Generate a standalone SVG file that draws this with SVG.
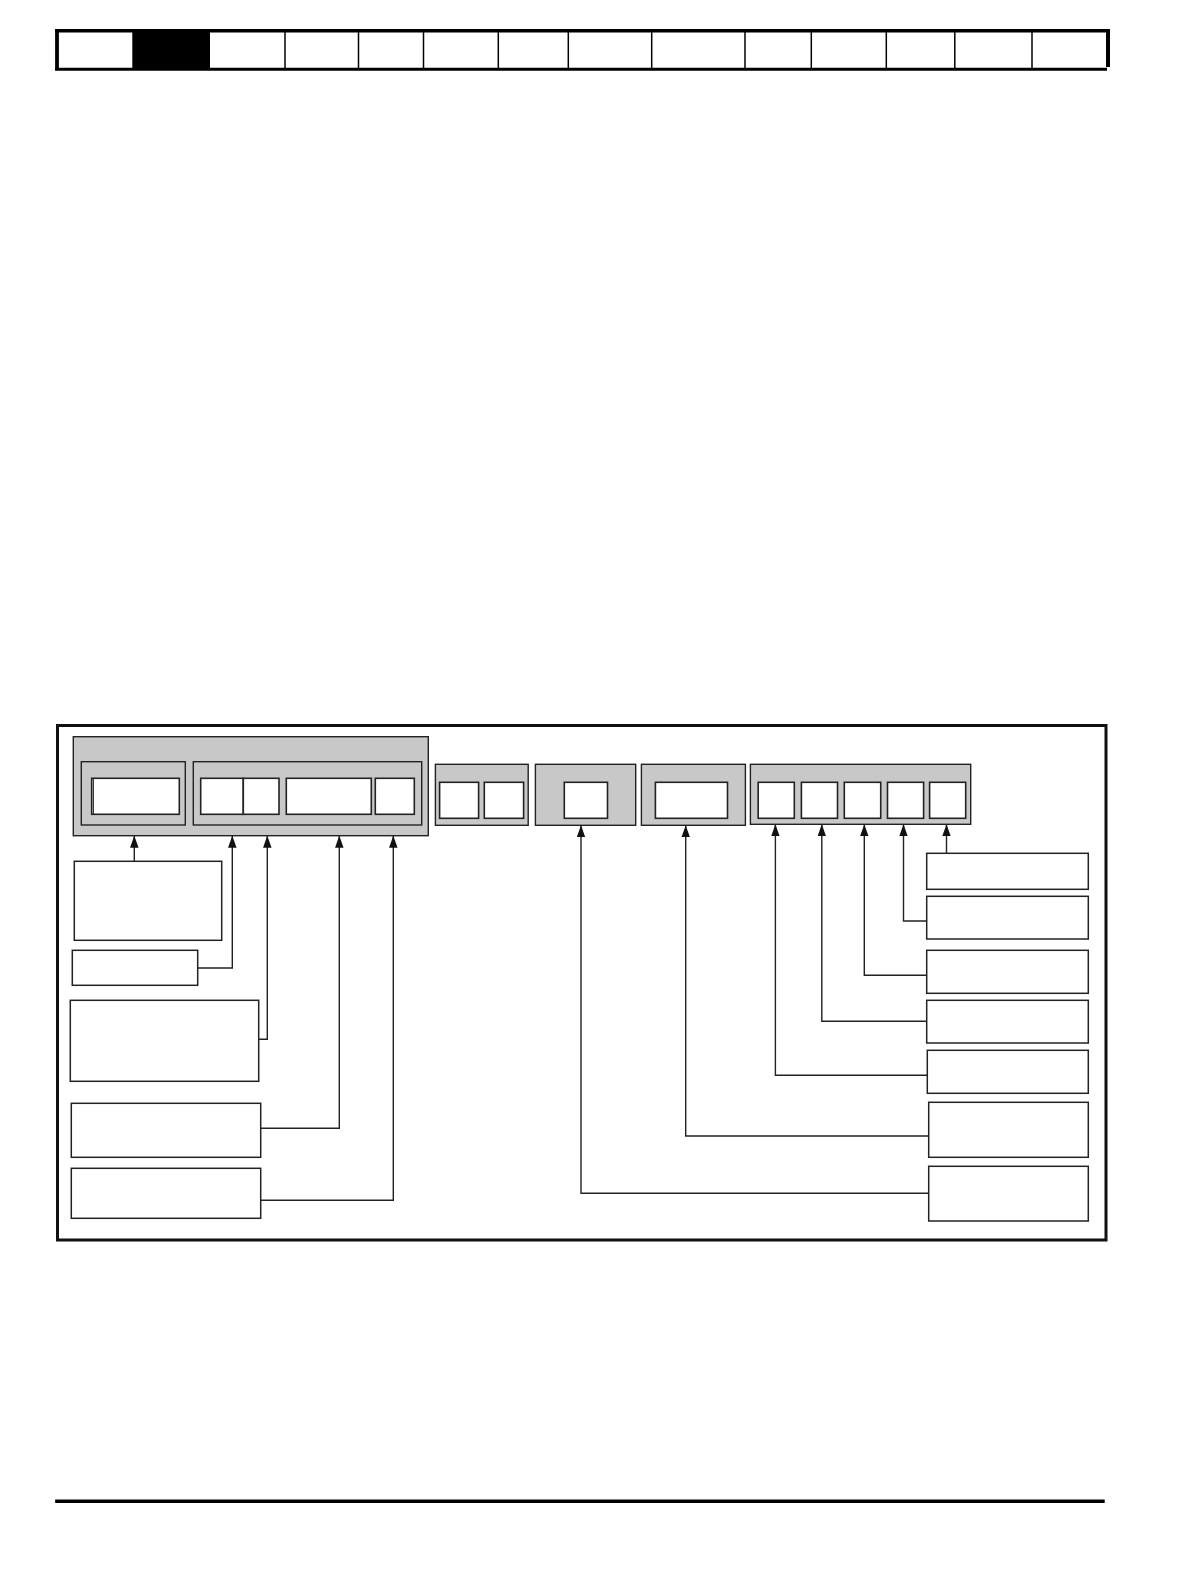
<svg xmlns="http://www.w3.org/2000/svg" width="1190" height="1580" viewBox="0 0 1190 1580">
  <style>
    .gray { fill: #c8c8c8; stroke: #222; stroke-width: 1.4; }
    .cell { fill: #fff; stroke: #222; stroke-width: 1.6; }
    .lbl { fill: #fff; stroke: #222; stroke-width: 1.5; }
    .conn { fill: none; stroke: #222; stroke-width: 1.4; }
    .hdiv { stroke: #000; stroke-width: 1.5; }
  </style>
  <defs>
    <marker id="arr" markerUnits="userSpaceOnUse" markerWidth="12" markerHeight="9" refX="12" refY="4.25" orient="auto">
      <path d="M0,0 L12,4.25 L0,8.5 z" fill="#111"/>
    </marker>
  </defs>
  <rect width="1190" height="1580" fill="#fff"/>

  <!-- header tab bar -->
  <g id="header">
    <rect x="132.3" y="31" width="77.7" height="38" fill="#000"/>
    <line class="hdiv" x1="285" y1="31" x2="285" y2="69"/>
    <line class="hdiv" x1="358.5" y1="31" x2="358.5" y2="69"/>
    <line class="hdiv" x1="423.5" y1="31" x2="423.5" y2="69"/>
    <line class="hdiv" x1="498.3" y1="31" x2="498.3" y2="69"/>
    <line class="hdiv" x1="568.3" y1="31" x2="568.3" y2="69"/>
    <line class="hdiv" x1="651.7" y1="31" x2="651.7" y2="69"/>
    <line class="hdiv" x1="745" y1="31" x2="745" y2="69"/>
    <line class="hdiv" x1="811.3" y1="31" x2="811.3" y2="69"/>
    <line class="hdiv" x1="886.3" y1="31" x2="886.3" y2="69"/>
    <line class="hdiv" x1="954.8" y1="31" x2="954.8" y2="69"/>
    <line class="hdiv" x1="1032" y1="31" x2="1032" y2="69"/>
    <line x1="55" y1="30.8" x2="1110" y2="30.8" stroke="#000" stroke-width="3.6"/>
    <line x1="55" y1="69.2" x2="1107" y2="69.2" stroke="#000" stroke-width="3"/>
    <line x1="57" y1="31" x2="57" y2="68" stroke="#000" stroke-width="3.8"/>
    <line x1="1108" y1="31" x2="1108" y2="67" stroke="#000" stroke-width="4"/>
  </g>

  <!-- footer rule -->
  <line id="footer" x1="55.2" y1="1501.3" x2="1104.7" y2="1501.3" stroke="#000" stroke-width="3.4"/>

  <!-- frame -->
  <rect id="frame" x="57.5" y="725.5" width="1048.5" height="514.5" fill="none" stroke="#111" stroke-width="3"/>

  <!-- code blocks -->
  <g id="block1">
    <rect class="gray" x="73.3" y="736.7" width="355" height="99"/>
    <rect class="gray" x="81.3" y="761.7" width="104" height="63.3"/>
    <rect class="cell" x="91.7" y="778.3" width="87.6" height="36"/>
    <line x1="93.4" y1="778.3" x2="93.4" y2="814.3" stroke="#222" stroke-width="1"/>
    <rect class="gray" x="193.3" y="761.7" width="228.4" height="63.3"/>
    <rect class="cell" x="200.7" y="778.3" width="42.6" height="36"/>
    <rect class="cell" x="243.3" y="778.3" width="35.7" height="36"/>
    <rect class="cell" x="286.3" y="778.3" width="85" height="36"/>
    <rect class="cell" x="375.3" y="778.3" width="39" height="36"/>
  </g>
  <g id="block2">
    <rect class="gray" x="435.4" y="764.3" width="92.8" height="61"/>
    <rect class="cell" x="439.6" y="782.3" width="39" height="36"/>
    <rect class="cell" x="484.3" y="782.3" width="39.3" height="36"/>
  </g>
  <g id="block3">
    <rect class="gray" x="535.4" y="764.3" width="100.3" height="61"/>
    <rect class="cell" x="564.3" y="782.3" width="43.2" height="36"/>
  </g>
  <g id="block4">
    <rect class="gray" x="641.4" y="764.3" width="104" height="61"/>
    <rect class="cell" x="655.4" y="782.3" width="72.1" height="36"/>
  </g>
  <g id="block5">
    <rect class="gray" x="750.4" y="764.3" width="220.3" height="60"/>
    <rect class="cell" x="758.2" y="782.3" width="36.1" height="36"/>
    <rect class="cell" x="801.4" y="782.3" width="36.1" height="36"/>
    <rect class="cell" x="844.3" y="782.3" width="36.4" height="36"/>
    <rect class="cell" x="887.5" y="782.3" width="36.1" height="36"/>
    <rect class="cell" x="929.6" y="782.3" width="36.1" height="36"/>
  </g>

  <!-- left label boxes -->
  <g id="labelA"><rect class="lbl" x="74.3" y="861.3" width="147.4" height="79"/></g>
  <g id="labelB"><rect class="lbl" x="72.3" y="950.3" width="125.4" height="35"/></g>
  <g id="labelC"><rect class="lbl" x="70.3" y="1000.3" width="188.4" height="81"/></g>
  <g id="labelD"><rect class="lbl" x="71.3" y="1103.3" width="189.4" height="54"/></g>
  <g id="labelE"><rect class="lbl" x="71.3" y="1168.3" width="189.4" height="50"/></g>

  <!-- right label boxes -->
  <g id="labelR1"><rect class="lbl" x="926.7" y="853.3" width="161.6" height="36"/></g>
  <g id="labelR2"><rect class="lbl" x="926.7" y="896.3" width="161.6" height="42.7"/></g>
  <g id="labelR3"><rect class="lbl" x="926.7" y="950.3" width="161.6" height="43"/></g>
  <g id="labelR4"><rect class="lbl" x="926.7" y="1000.3" width="161.6" height="42.7"/></g>
  <g id="labelR5"><rect class="lbl" x="927.3" y="1050.3" width="161" height="43"/></g>
  <g id="labelR6"><rect class="lbl" x="928.7" y="1102.3" width="159.6" height="55"/></g>
  <g id="labelR7"><rect class="lbl" x="928.7" y="1166.3" width="159.6" height="54.7"/></g>

  <!-- connectors -->
  <g id="connectors">
    <path class="conn" marker-end="url(#arr)" d="M134.3,861.3 V835.7"/>
    <path class="conn" marker-end="url(#arr)" d="M197.7,968 H232.3 V835.7"/>
    <path class="conn" marker-end="url(#arr)" d="M258.7,1039.3 H267.3 V835.7"/>
    <path class="conn" marker-end="url(#arr)" d="M260.7,1128.3 H339.3 V835.7"/>
    <path class="conn" marker-end="url(#arr)" d="M260.7,1200.3 H393.3 V835.7"/>
    <path class="conn" marker-end="url(#arr)" d="M928.7,1193.3 H581 V825.3"/>
    <path class="conn" marker-end="url(#arr)" d="M928.7,1136 H685.7 V825.3"/>
    <path class="conn" marker-end="url(#arr)" d="M927.3,1075.3 H775.4 V824.3"/>
    <path class="conn" marker-end="url(#arr)" d="M926.7,1021.3 H821.8 V824.3"/>
    <path class="conn" marker-end="url(#arr)" d="M926.7,975.3 H864.3 V824.3"/>
    <path class="conn" marker-end="url(#arr)" d="M926.7,921 H903.5 V824.3"/>
    <path class="conn" marker-end="url(#arr)" d="M946.5,853.3 V824.3"/>
  </g>
</svg>
